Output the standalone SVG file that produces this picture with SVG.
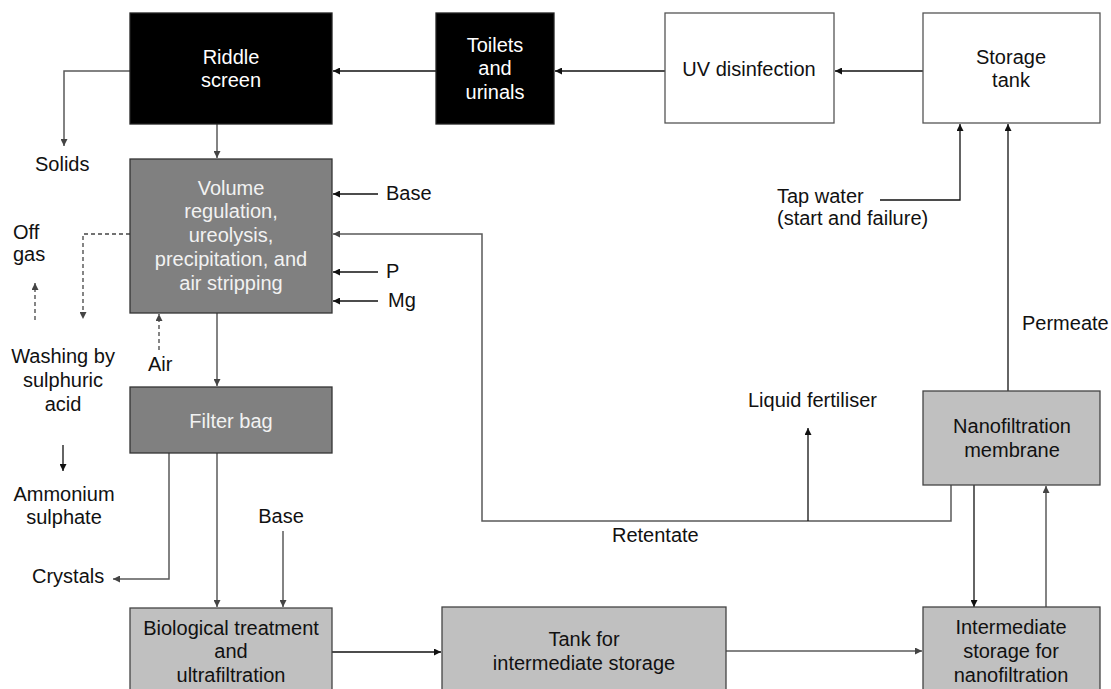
<svg xmlns="http://www.w3.org/2000/svg" width="1111" height="689" viewBox="0 0 1111 689">
<defs>
<marker id="ad" viewBox="0 0 10 10" refX="10" refY="5" markerWidth="7" markerHeight="7" markerUnits="userSpaceOnUse" orient="auto"><path d="M0,0 L10,5 L0,10 z" fill="#111"/></marker>
<marker id="ag" viewBox="0 0 10 10" refX="10" refY="5" markerWidth="7" markerHeight="7" markerUnits="userSpaceOnUse" orient="auto"><path d="M0,0 L10,5 L0,10 z" fill="#444"/></marker>
<style>
text{font-family:"Liberation Sans",Arial,sans-serif;font-size:20px;fill:#111;}
.c{text-anchor:middle;}
.w{fill:#fff;}
.lw{fill:#f2f2f2;}
.blk{fill:#000;stroke:#222;stroke-width:1.3;}
.dg{fill:#808080;stroke:#333;stroke-width:1.3;}
.lg{fill:#c0c0c0;stroke:#444;stroke-width:1.3;}
.wt{fill:#fff;stroke:#555;stroke-width:1.3;}
.ln{fill:none;stroke:#111;stroke-width:1.3;}
.lg2{fill:none;stroke:#5a5a5a;stroke-width:1.5;}
.ds{fill:none;stroke:#444;stroke-width:1.3;stroke-dasharray:4 3;}
</style>
</defs>
<g id="connectors">
<line class="ln" x1="923" y1="71" x2="835" y2="71" marker-end="url(#ad)"/>
<line class="ln" x1="665" y1="71" x2="555" y2="71" marker-end="url(#ad)"/>
<line class="ln" x1="436" y1="71" x2="333" y2="71" marker-end="url(#ad)"/>
<polyline class="lg2" points="130,71 64,71 64,146" marker-end="url(#ag)"/>
<line class="lg2" x1="217" y1="124" x2="217" y2="158" marker-end="url(#ag)"/>
<line class="ln" x1="378" y1="194" x2="333" y2="194" marker-end="url(#ad)"/>
<line class="ln" x1="378" y1="272" x2="333" y2="272" marker-end="url(#ad)"/>
<line class="ln" x1="378" y1="301" x2="333" y2="301" marker-end="url(#ad)"/>
<polyline class="lg2" points="951,485 951,521 482,521 482,234 333,234" marker-end="url(#ag)"/>
<line class="ln" x1="808" y1="521" x2="808" y2="428" marker-end="url(#ad)"/>
<polyline class="ds" points="130,234 83,234 83,319" marker-end="url(#ag)"/>
<line class="ds" x1="35" y1="320" x2="35" y2="283" marker-end="url(#ag)"/>
<line class="ds" x1="159" y1="350" x2="159" y2="314" marker-end="url(#ag)"/>
<line class="ln" x1="63" y1="445" x2="63" y2="471" marker-end="url(#ad)"/>
<line class="lg2" x1="217" y1="313" x2="217" y2="386" marker-end="url(#ag)"/>
<polyline class="lg2" points="169,453 169,579 113,579" marker-end="url(#ag)"/>
<line class="lg2" x1="217" y1="453" x2="217" y2="607" marker-end="url(#ag)"/>
<line class="lg2" x1="283" y1="531" x2="283" y2="607" marker-end="url(#ag)"/>
<line class="ln" x1="332" y1="652" x2="441" y2="652" marker-end="url(#ad)"/>
<line class="lg2" x1="726" y1="651" x2="922" y2="651" marker-end="url(#ag)"/>
<line class="ln" x1="974" y1="485" x2="974" y2="607" marker-end="url(#ad)"/>
<line class="lg2" x1="1046" y1="607" x2="1046" y2="486" marker-end="url(#ag)"/>
<line class="ln" x1="1008" y1="391" x2="1008" y2="124" marker-end="url(#ad)"/>
<polyline class="ln" points="880,200 960,200 960,124" marker-end="url(#ad)"/>
</g>
<g id="riddle"><rect class="blk" x="130" y="13" width="202" height="111"/><text class="c w" x="231" y="64">Riddle</text><text class="c w" x="231" y="87">screen</text></g>
<g id="toilets"><rect class="blk" x="436" y="13" width="118" height="111"/><text class="c w" x="495" y="52">Toilets</text><text class="c w" x="495" y="75">and</text><text class="c w" x="495" y="99">urinals</text></g>
<g id="uv"><rect class="wt" x="665" y="13" width="169" height="110"/><text class="c" x="749" y="76">UV disinfection</text></g>
<g id="storage"><rect class="wt" x="923" y="13" width="177" height="110"/><text class="c" x="1011" y="64">Storage</text><text class="c" x="1011" y="87">tank</text></g>
<g id="volume"><rect class="dg" x="130" y="159" width="202" height="154"/>
<text class="c lw" x="231" y="195">Volume</text><text class="c lw" x="231" y="218">regulation,</text><text class="c lw" x="231" y="242">ureolysis,</text><text class="c lw" x="231" y="266">precipitation, and</text><text class="c lw" x="231" y="290">air stripping</text></g>
<g id="filter"><rect class="dg" x="130" y="387" width="202" height="66"/><text class="c lw" x="231" y="428">Filter bag</text></g>
<g id="bio"><rect class="lg" x="130" y="608" width="202" height="95"/><text class="c" x="231" y="635">Biological treatment</text><text class="c" x="231" y="658">and</text><text class="c" x="231" y="682">ultrafiltration</text></g>
<g id="tank"><rect class="lg" x="442" y="607" width="284" height="95"/><text class="c" x="584" y="646">Tank for</text><text class="c" x="584" y="670">intermediate storage</text></g>
<g id="nano"><rect class="lg" x="923" y="391" width="177" height="94"/><text class="c" x="1012" y="433">Nanofiltration</text><text class="c" x="1012" y="457">membrane</text></g>
<g id="inter"><rect class="lg" x="923" y="607" width="177" height="95"/><text class="c" x="1011" y="634">Intermediate</text><text class="c" x="1011" y="658">storage for</text><text class="c" x="1011" y="682">nanofiltration</text></g>
<g id="labels">
<text x="35" y="171">Solids</text>
<text x="386" y="200">Base</text>
<text x="386" y="278">P</text>
<text x="388" y="307">Mg</text>
<text x="13" y="239">Off</text>
<text x="13" y="261">gas</text>
<text x="148" y="371">Air</text>
<text class="c" x="63" y="363">Washing by</text>
<text class="c" x="63" y="387">sulphuric</text>
<text class="c" x="63" y="411">acid</text>
<text class="c" x="64" y="501">Ammonium</text>
<text class="c" x="64" y="524">sulphate</text>
<text x="32" y="583">Crystals</text>
<text class="c" x="281" y="523">Base</text>
<text x="612" y="542">Retentate</text>
<text x="748" y="407">Liquid fertiliser</text>
<text x="1022" y="330">Permeate</text>
<text x="777" y="203">Tap water</text>
<text x="777" y="225">(start and failure)</text>
</g>
</svg>
